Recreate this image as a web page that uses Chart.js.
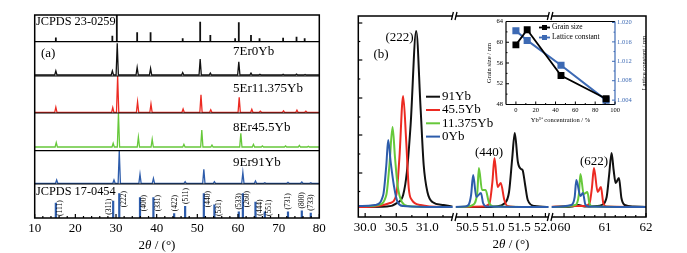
<!DOCTYPE html>
<html>
<head>
<meta charset="utf-8">
<script src="https://cdn.jsdelivr.net/npm/chart.js@4.4.1/dist/chart.umd.min.js"></script>
<style>
body { margin: 0; background: #fff; width: 687px; height: 253px; overflow: hidden; position: relative; }
canvas { position: absolute; }
</style>
</head>
<body>
<canvas id="chartA" style="left:0px;top:0px" width="340" height="253"></canvas>
<canvas id="chartB" style="left:340px;top:0px" width="347" height="253"></canvas>
<canvas id="inset" style="left:478px;top:12px" width="182" height="116"></canvas>
<script>
// ---------- panel (a): peak positions (2theta) and relative intensities (%) ----------
var refTopPos = [15.2, 29.1, 30.2, 35.2, 38.5, 46.4, 50.7, 53.2, 59.3, 60.2, 63.2, 65.3, 71.1, 74.4, 76.4];
var refTopInt = [16, 22, 100, 35, 35, 13, 75, 25, 13, 73, 25, 13, 15, 19, 13];

var pos0Yb = [15.2, 29.1, 30.3, 35.2, 38.5, 46.4, 50.7, 53.2, 60.2, 63.2, 65.4, 71.1, 74.4, 76.5];
var int0Yb = [13, 13, 100, 24, 21, 8, 50, 6, 42, 6, 2, 2, 3, 1.5];
var pos11Yb = [15.2, 29.2, 30.4, 35.3, 38.6, 46.5, 50.9, 53.3, 60.3, 63.4, 65.5, 71.2, 74.5, 76.7];
var int11Yb = [14, 13, 100, 29, 23, 9, 48, 7, 41, 8, 3, 4, 6, 3];
var pos45Yb = [15.3, 29.3, 30.6, 35.5, 38.9, 46.7, 51.1, 53.6, 60.7, 63.8, 66.0, 71.7, 75.1, 77.3];
var int45Yb = [13, 11, 100, 29, 23, 8, 50, 6, 41, 8, 3, 3, 5, 2];
var pos91Yb = [15.4, 29.5, 30.8, 35.9, 39.2, 47.0, 51.6, 54.2, 61.2, 64.3, 66.6, 72.3, 75.7, 77.9];
var int91Yb = [10, 10, 100, 28, 15, 5, 43, 5, 33, 7, 2, 3, 4, 2];

var refBotHkl = ['(111)', '(311)', '(222)', '(400)', '(331)', '(422)', '(511)', '(440)', '(531)', '(533)', '(260)', '(444)', '(551)', '(731)', '(800)', '(733)'];
var refBotPos = [15.2, 29.3, 30.8, 35.9, 39.2, 44.3, 47.0, 51.6, 54.2, 60.2, 61.2, 64.3, 66.6, 72.3, 75.7, 77.9];
var refBotInt = [62, 70, 100, 84, 84, 19, 49, 100, 55, 26, 100, 66, 26, 26, 30, 21];

// ---------- panel (b): zoomed profiles [2theta, intensity] ----------
var yb91_222 = [[29.89,1],[30.35,1.5],[30.51,5],[30.61,13],[30.67,36],[30.73,83],[30.82,177],[30.89,100],[30.94,43],[31.00,16],[31.08,6],[31.26,3],[31.43,1]];
var yb91_440 = [[50.25,1],[50.9,1],[51.05,1.5],[51.21,4.5],[51.30,16],[51.36,49],[51.41,75],[51.47,46],[51.53,39],[51.56,38],[51.61,23],[51.66,8],[51.79,2],[52.09,1]];
var yb91_622 = [[59.66,1],[60.2,1.5],[60.35,3],[60.5,1.5],[60.8,2],[60.92,3],[61.04,11],[61.10,33],[61.16,55],[61.21,38],[61.26,25],[61.34,30],[61.40,10],[61.48,3],[61.7,1.5],[62.0,1]];

var yb45_222 = [[29.89,1],[30.16,1.5],[30.40,5],[30.50,13],[30.55,50],[30.61,112],[30.66,66],[30.70,20],[30.75,8],[30.89,3],[31.21,1],[31.43,1]];
var yb45_440 = [[50.25,1],[50.80,1.5],[50.92,4],[50.98,26],[51.02,50],[51.08,21],[51.14,25],[51.21,8],[51.27,2],[51.5,1],[52.09,1]];
var yb45_622 = [[59.66,1],[60.1,2],[60.5,2],[60.62,4.5],[60.68,20],[60.73,40],[60.82,16],[60.90,21],[60.96,4.5],[61.04,1.5],[62.0,1]];

var yb11_222 = [[29.89,2],[30.08,2],[30.21,3],[30.34,13],[30.39,43],[30.44,81],[30.48,50],[30.52,23],[30.59,6],[30.69,2],[31.05,1],[31.43,1]];
var yb11_440 = [[50.25,1],[50.5,1.5],[50.60,3],[50.69,16],[50.72,40],[50.78,18],[50.85,18],[50.91,6],[51.00,1.5],[52.09,1]];
var yb11_622 = [[59.66,1],[60.28,3],[60.36,13],[60.40,34],[60.48,14],[60.57,16],[60.62,4.5],[60.70,1.5],[62.0,1]];

var yb0_222 = [[29.89,2],[29.95,2],[30.16,3],[30.29,13],[30.34,43],[30.37,68],[30.41,46],[30.46,23],[30.52,6],[30.61,2],[31.21,1],[31.43,1]];
var yb0_440 = [[50.25,1],[50.45,1.5],[50.52,3],[50.57,13],[50.61,33],[50.67,11],[50.76,15],[50.80,5],[50.87,1.5],[52.09,1]];
var yb0_622 = [[59.66,1],[60.18,3],[60.26,11],[60.30,28],[60.40,12],[60.46,15],[60.52,3.5],[60.60,1.5],[62.0,1]];

var tickValsB = [30.0, 30.5, 31.0, 50.5, 51.0, 51.5, 52.0, 60, 61, 62];
var tickLabelsB = ['30.0', '30.5', '31.0', '50.5', '51.0', '51.5', '52.0', '60', '61', '62'];
var legendB = ['91Yb', '45.5Yb', '11.375Yb', '0Yb'];

// ---------- inset ----------
var ybConc = [0, 11.375, 45.5, 91];
var grainSize = [59.5, 62.4, 53.6, 49.1];
var latticeConst = [1.0183, 1.0163, 1.0112, 1.0040];

var FONT = 'Liberation Serif';
var BLACK = '#111', RED = '#ec2a22', GREEN = '#66c83a', BLUE = '#2d5cab', INSET_BLUE = '#3d6ab4';

// build a stacked pattern: baseline + narrow triangular peaks
function pattern(pos, ints, base, scale) {
    var pts = [{ x: 10, y: base }];
    pos.forEach(function (p, i) {
        pts.push({ x: p - 0.28, y: base }, { x: p, y: base + ints[i] * scale / 100 }, { x: p + 0.28, y: base });
    });
    pts.push({ x: 80, y: base });
    return pts;
}
// reference cards drawn as sticks
function sticks(pos, ints, base, scale) {
    var pts = [];
    pos.forEach(function (p, i) {
        pts.push({ x: p, y: base }, { x: p, y: base + ints[i] * scale / 100 }, { x: p, y: null });
    });
    return pts;
}
function lineDs(data, color, w) {
    return { data: data, borderColor: color, borderWidth: w, pointRadius: 0, tension: 0, spanGaps: false, fill: false };
}
function txt(ctx, s, x, y, size, align, color, style) {
    ctx.save();
    ctx.font = (style || 'normal') + ' ' + size + 'px ' + FONT;
    ctx.fillStyle = color || '#000';
    ctx.textAlign = align || 'left';
    ctx.textBaseline = 'middle';
    ctx.fillText(s, x, y);
    ctx.restore();
}
function vtxt(ctx, s, x, y, size, align, color) { // rotated, reading bottom -> top
    ctx.save();
    ctx.translate(x, y);
    ctx.rotate(-Math.PI / 2);
    txt(ctx, s, 0, 0, size, align, color);
    ctx.restore();
}
function axisTitle(ctx, cx, cy) {
    var parts = [['2', 'normal'], ['\u03B8', 'italic'], [' / (\u00B0)', 'normal']];
    var w = 0;
    ctx.save();
    parts.forEach(function (p) { ctx.font = p[1] + ' 13px ' + FONT; w += ctx.measureText(p[0]).width; });
    var x = cx - w / 2;
    parts.forEach(function (p) {
        ctx.font = p[1] + ' 13px ' + FONT;
        txt(ctx, p[0], x, cy, 13, 'left', '#000', p[1]);
        x += ctx.measureText(p[0]).width;
    });
    ctx.restore();
}
function hline(ctx, x1, x2, y, w, c) {
    ctx.save(); ctx.strokeStyle = c || '#000'; ctx.lineWidth = w;
    ctx.beginPath(); ctx.moveTo(x1, y); ctx.lineTo(x2, y); ctx.stroke(); ctx.restore();
}
function vline(ctx, x, y1, y2, w, c) {
    ctx.save(); ctx.strokeStyle = c || '#000'; ctx.lineWidth = w;
    ctx.beginPath(); ctx.moveTo(x, y1); ctx.lineTo(x, y2); ctx.stroke(); ctx.restore();
}
var noGrid = { display: false, drawTicks: false };

// ================= panel (a) =================
// layout of the stacked bands (y units = px above the x axis)
var bandA = { refTop: [176.3, 26.7], y0: [143, 31.7], y11: [105.7, 36.3], y45: [71, 33.7], y91: [34.7, 32.7], refBot: [0, 24.7] };
var sepA = [34, 67.3, 105, 142, 176.3];
var labelSide = ['r', 'l', 'r', 'r', 'r', 'a', 'a', 'r', 'r', 'a', 'r', 'r', 'r', 'a', 'a', 'a'];

var plotA = {
    id: 'decoA',
    afterDraw: function (chart) {
        var ctx = chart.ctx, a = chart.chartArea, xs = chart.scales.x, ys = chart.scales.y;
        sepA.forEach(function (v) { hline(ctx, a.left, a.right, ys.getPixelForValue(v), 1.2); });
        ctx.save(); ctx.strokeStyle = '#000'; ctx.lineWidth = 1.5;
        ctx.strokeRect(a.left, a.top, a.right - a.left, a.bottom - a.top); ctx.restore();
        for (var t = 10; t <= 80; t += 2) {
            var len = (t % 10 === 0) ? 4 : 2;
            vline(ctx, xs.getPixelForValue(t), a.bottom, a.bottom - len, 1.2);
        }
        // hkl labels of the bottom card
        refBotHkl.forEach(function (h, i) {
            var px = xs.getPixelForValue(refBotPos[i]);
            var top = ys.getPixelForValue(bandA.refBot[0] + refBotInt[i] * bandA.refBot[1] / 100);
            var L = 16, start;
            if (labelSide[i] === 'a') { start = top - 2; vtxt(ctx, h, px + 0.5, start, 7.5, 'left'); }
            else {
                start = Math.min(top - 2, a.bottom - 2 - L) + L;
                vtxt(ctx, h, labelSide[i] === 'r' ? px + 4.5 : px - 4, start, 7.5, 'left');
            }
        });
        txt(ctx, 'JCPDS 23-0259', 36, 22, 12.3);
        txt(ctx, '(a)', 41, 54, 13);
        txt(ctx, '7Er0Yb', 233, 52, 13);
        txt(ctx, '5Er11.375Yb', 233, 89, 13);
        txt(ctx, '8Er45.5Yb', 233, 128, 13);
        txt(ctx, '9Er91Yb', 233, 163, 13);
        txt(ctx, 'JCPDS 17-0454', 36, 191.5, 12.3);
        axisTitle(ctx, 157, 246);
    }
};

new Chart(document.getElementById('chartA'), {
    type: 'line',
    data: {
        datasets: [
            lineDs(sticks(refTopPos, refTopInt, bandA.refTop[0], bandA.refTop[1]), BLACK, 1.8),
            lineDs(pattern(pos0Yb, int0Yb, bandA.y0[0], bandA.y0[1]), BLACK, 1.3),
            lineDs(pattern(pos11Yb, int11Yb, bandA.y11[0], bandA.y11[1]), RED, 1.3),
            lineDs(pattern(pos45Yb, int45Yb, bandA.y45[0], bandA.y45[1]), GREEN, 1.3),
            lineDs(pattern(pos91Yb, int91Yb, bandA.y91[0], bandA.y91[1]), BLUE, 1.3),
            lineDs(sticks(refBotPos, refBotInt, bandA.refBot[0], bandA.refBot[1]), BLUE, 2.2)
        ]
    },
    options: {
        responsive: false, animation: false, events: [],
        layout: { padding: { left: 34.7, right: 20.7, top: 15, bottom: 0 } },
        plugins: { legend: { display: false }, tooltip: { enabled: false } },
        scales: {
            x: {
                type: 'linear', min: 10, max: 80,
                ticks: { stepSize: 10, color: '#000', font: { family: FONT, size: 13 }, padding: 3, maxRotation: 0, autoSkip: false },
                grid: noGrid, border: { display: false },
                afterFit: function (s) { s.height = 35; }
            },
            y: { display: false, min: 0, max: 203 }
        }
    },
    plugins: [plotA]
});

// ================= panel (b): broken x axis =================
var segLo = [29.89, 50.245, 59.66], segHi = [31.43, 52.09, 62.0];
function toV(t) {
    for (var i = 0; i < 3; i++) {
        if (t >= segLo[i] - 0.3 && t <= segHi[i] + 0.3) return i + (t - segLo[i]) / (segHi[i] - segLo[i]);
    }
    return null;
}
function profile(segs) {
    var out = [];
    segs.forEach(function (seg, k) {
        seg.forEach(function (p) { out.push({ x: toV(p[0]), y: p[1] }); });
        if (k < segs.length - 1) out.push({ x: k + 1, y: null });
    });
    return out;
}
function profDs(segs, color) {
    return { data: profile(segs), borderColor: color, borderWidth: 2, pointRadius: 0, cubicInterpolationMode: 'monotone', spanGaps: false, fill: false };
}
var yTicksMajorB = [35, 73, 110, 148, 185];
var yTicksMinorB = [16.5, 54, 91, 129, 166.5];
var minorB = [30.25, 30.75, 31.25, 50.75, 51.25, 51.75, 60.25, 60.5, 60.75, 61.25, 61.5, 61.75];

var plotB = {
    id: 'decoB',
    afterDatasetsDraw: function (chart) {
        var ctx = chart.ctx, a = chart.chartArea, xs = chart.scales.x;
        ctx.save(); ctx.fillStyle = '#fff';
        [1, 2].forEach(function (v) { var px = xs.getPixelForValue(v); ctx.fillRect(px - 1.5, a.bottom - 20, 3, 19); });
        ctx.restore();
    },
    afterDraw: function (chart) {
        var ctx = chart.ctx, a = chart.chartArea, xs = chart.scales.x, ys = chart.scales.y;
        ctx.save(); ctx.strokeStyle = '#000'; ctx.lineWidth = 1.5;
        ctx.strokeRect(a.left, a.top, a.right - a.left, a.bottom - a.top); ctx.restore();
        tickValsB.forEach(function (t) { vline(ctx, xs.getPixelForValue(toV(t)), a.bottom, a.bottom - 4, 1.2); });
        minorB.forEach(function (t) { vline(ctx, xs.getPixelForValue(toV(t)), a.bottom, a.bottom - 2, 1.2); });
        yTicksMajorB.forEach(function (v) { hline(ctx, a.left, a.left + 4, ys.getPixelForValue(v), 1.2); });
        yTicksMinorB.forEach(function (v) { hline(ctx, a.left, a.left + 2, ys.getPixelForValue(v), 1.2); });
        // axis breaks
        [1, 2].forEach(function (v) {
            var px = xs.getPixelForValue(v);
            [a.top, a.bottom].forEach(function (py) {
                ctx.save();
                ctx.fillStyle = '#fff'; ctx.fillRect(px - 1.5, py - 1.5, 3, 3);
                ctx.strokeStyle = '#000'; ctx.lineWidth = 1.3;
                ctx.beginPath();
                ctx.moveTo(px - 2.8, py + 4); ctx.lineTo(px - 0.8, py - 4);
                ctx.moveTo(px + 0.8, py + 4); ctx.lineTo(px + 2.8, py - 4);
                ctx.stroke(); ctx.restore();
            });
        });
        var colors = [BLACK, RED, GREEN, BLUE];
        legendB.forEach(function (s, i) {
            var y = 96.7 + i * 13.3;
            hline(ctx, 426 - 340, 440 - 340, y, 2, colors[i]);
            txt(ctx, s, 442 - 340, y, 13);
        });
        txt(ctx, '(222)', 399.5 - 340, 38, 13, 'center');
        txt(ctx, '(b)', 381 - 340, 55, 13, 'center');
        txt(ctx, '(440)', 489 - 340, 153, 13, 'center');
        txt(ctx, '(622)', 594 - 340, 162, 13, 'center');
        axisTitle(ctx, 511 - 340, 245);
    }
};

new Chart(document.getElementById('chartB'), {
    type: 'line',
    data: {
        datasets: [
            profDs([yb0_222, yb0_440, yb0_622], BLUE),
            profDs([yb11_222, yb11_440, yb11_622], GREEN),
            profDs([yb45_222, yb45_440, yb45_622], RED),
            profDs([yb91_222, yb91_440, yb91_622], BLACK)
        ]
    },
    options: {
        responsive: false, animation: false, events: [],
        layout: { padding: { left: 18.3, right: 41, top: 16, bottom: 0 } },
        plugins: { legend: { display: false }, tooltip: { enabled: false } },
        scales: {
            x: {
                type: 'linear', min: 0, max: 3,
                afterBuildTicks: function (s) { s.ticks = tickValsB.map(function (t) { return { value: toV(t) }; }); },
                ticks: {
                    callback: function (val, idx) { return tickLabelsB[idx]; },
                    color: '#000', font: { family: FONT, size: 13 }, padding: 3, maxRotation: 0, autoSkip: false
                },
                grid: noGrid, border: { display: false },
                afterFit: function (s) { s.height = 36; }
            },
            y: { display: false, min: -9, max: 192 }
        }
    },
    plugins: [plotB]
});

// ================= inset =================
var plotInset = {
    id: 'decoInset',
    beforeDraw: function (chart) {
        var a = chart.chartArea, ctx = chart.ctx;
        ctx.save(); ctx.fillStyle = '#fff'; ctx.fillRect(a.left, a.top, a.right - a.left, a.bottom - a.top); ctx.restore();
    },
    afterDraw: function (chart) {
        var ctx = chart.ctx, a = chart.chartArea, xs = chart.scales.x, ys = chart.scales.y, y1 = chart.scales.y1;
        hline(ctx, a.left, a.right, a.top, 1.2);
        hline(ctx, a.left, a.right, a.bottom, 1.2);
        vline(ctx, a.left, a.top, a.bottom, 1.2);
        vline(ctx, a.right, a.top, a.bottom, 1.2, INSET_BLUE);
        for (var t = 0; t <= 100; t += 10) vline(ctx, xs.getPixelForValue(t), a.bottom, a.bottom - (t % 20 === 0 ? 3 : 1.5), 1);
        for (var g = 48; g <= 64; g += 2) hline(ctx, a.left, a.left + (g % 4 === 0 ? 3 : 1.5), ys.getPixelForValue(g), 1);
        for (var k = 0; k <= 8; k++) {
            var v = 1.004 + k * 0.002;
            hline(ctx, a.right, a.right - (k % 2 === 0 ? 3 : 1.5), y1.getPixelForValue(v), 1, INSET_BLUE);
        }
        // legend
        var items = [['Grain size', '#000'], ['Lattice constant', INSET_BLUE]];
        items.forEach(function (it, i) {
            var y = 15.5 + i * 10;
            hline(ctx, 61, 72, y, 1.8, it[1]);
            ctx.save(); ctx.fillStyle = it[1]; ctx.fillRect(64, y - 2.5, 5, 5); ctx.restore();
            txt(ctx, it[0], 74, y, 7.5);
        });
        vtxt(ctx, 'Grain size / nm', 11, (a.top + a.bottom) / 2, 6.5, 'center');
        vtxt(ctx, 'Lattice constant / nm', 166, (a.top + a.bottom) / 2, 6.5, 'center');
        txt(ctx, 'Yb\u00B3\u207A concentration / %', (a.left + a.right) / 2, 108, 6.5, 'center');
    }
};

new Chart(document.getElementById('inset'), {
    type: 'line',
    data: {
        datasets: [
            {
                data: ybConc.map(function (c, i) { return { x: c, y: grainSize[i] }; }), yAxisID: 'y',
                borderColor: '#000', backgroundColor: '#000', borderWidth: 1.8, pointStyle: 'rect', pointRadius: 3.6, tension: 0
            },
            {
                data: ybConc.map(function (c, i) { return { x: c, y: latticeConst[i] }; }), yAxisID: 'y1',
                borderColor: INSET_BLUE, backgroundColor: INSET_BLUE, borderWidth: 2, pointStyle: 'rect', pointRadius: 3.6, tension: 0
            }
        ]
    },
    options: {
        responsive: false, animation: false, events: [],
        layout: { padding: { left: 0, right: 0, top: 9.5, bottom: 0 } },
        plugins: { legend: { display: false }, tooltip: { enabled: false } },
        scales: {
            x: {
                type: 'linear', min: -10, max: 100,
                afterBuildTicks: function (s) { s.ticks = [0, 20, 40, 60, 80, 100].map(function (v) { return { value: v }; }); },
                ticks: { color: '#000', font: { family: FONT, size: 6.5 }, padding: 2, maxRotation: 0, autoSkip: false },
                grid: noGrid, border: { display: false },
                afterFit: function (s) { s.height = 23.5; }
            },
            y: {
                position: 'left', min: 48, max: 64,
                afterBuildTicks: function (s) { s.ticks = [48, 52, 56, 60, 64].map(function (v) { return { value: v }; }); },
                ticks: { color: '#000', font: { family: FONT, size: 6.5 }, padding: 3 },
                grid: noGrid, border: { display: false },
                afterFit: function (s) { s.width = 28; }
            },
            y1: {
                position: 'right', min: 1.0031, max: 1.0202,
                afterBuildTicks: function (s) { s.ticks = [1.004, 1.008, 1.012, 1.016, 1.020].map(function (v) { return { value: v }; }); },
                ticks: { color: INSET_BLUE, font: { family: FONT, size: 6.5 }, padding: 2, callback: function (v) { return v.toFixed(3); } },
                grid: noGrid, border: { display: false },
                afterFit: function (s) { s.width = 45; }
            }
        }
    },
    plugins: [plotInset]
});
</script>
</body>
</html>
